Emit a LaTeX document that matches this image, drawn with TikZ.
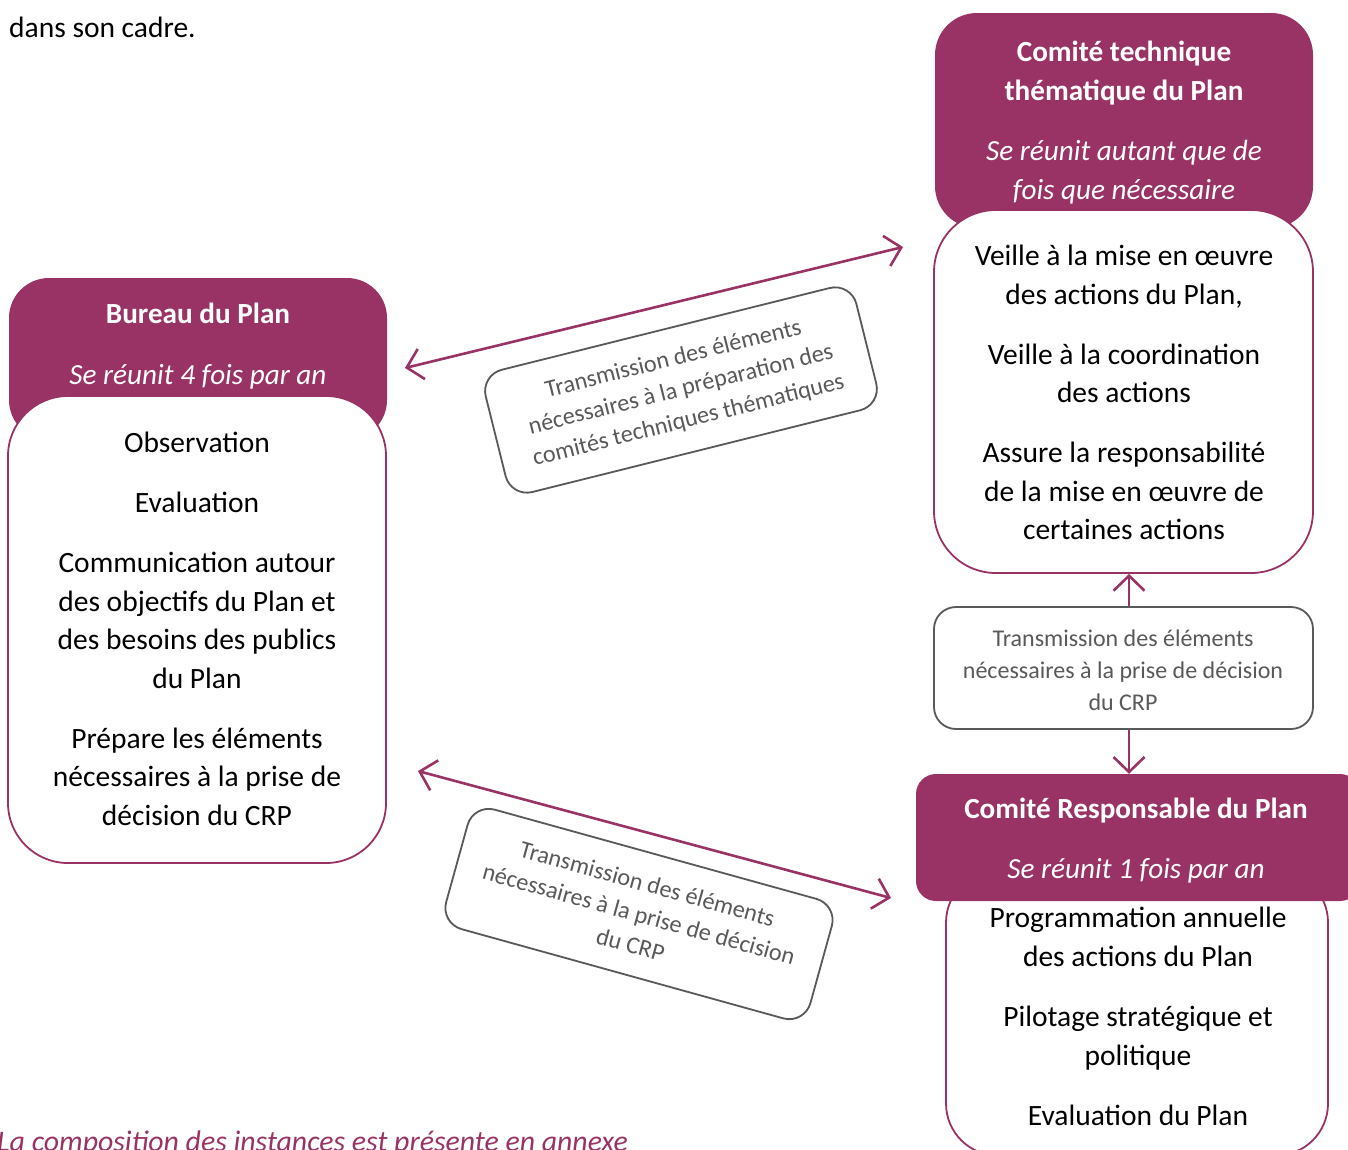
\documentclass[tikz,border=0pt]{standalone}
\usepackage{fontspec}
\setmainfont{Carlito}
\usetikzlibrary{arrows.meta}
\definecolor{plum}{RGB}{153,51,102}
\definecolor{greytxt}{RGB}{89,89,89}
\tikzset{
  head/.style={fill=plum, draw=none, inner sep=0pt},
  bodybox/.style={fill=white, draw=plum, line width=1.8pt, inner sep=0pt},
  greybox/.style={fill=white, draw=greytxt, line width=1.8pt, inner sep=0pt, rounded corners=22pt},
  htitle/.style={anchor=base, inner sep=0pt, text=white, font=\fontsize{29.2}{39}\selectfont\bfseries},
  hsub/.style={anchor=base, inner sep=0pt, text=white, font=\fontsize{29.2}{39}\selectfont\itshape},
  btext/.style={anchor=base, inner sep=0pt, text=black, font=\fontsize{29.5}{39}\selectfont},
  gtext/.style={anchor=base, inner sep=0pt, text=greytxt, font=\fontsize{24}{32}\selectfont},
  rotbox/.style={fill=white, draw=greytxt, line width=1.8pt, inner sep=0pt, rounded corners=22pt,
     align=center, text=greytxt, font=\fontsize{24.2}{31.5}\selectfont},
  barb/.tip={Straight Barb[length=15pt,width=31pt]},
  arr/.style={draw=plum, line width=2.6pt},
}
\begin{document}
\begin{tikzpicture}[x=1pt,y=-1pt]
\useasboundingbox (0,0) rectangle (1348,1149);
\clip (0,0) rectangle (1348,1149);
\fill[white] (0,0) rectangle (1348,1149);

% top text
\node[anchor=base west, inner sep=0pt, font=\fontsize{29.5}{39}\selectfont] (intro) at (9,37) {dans son cadre.};

% Comite technique thematique
\node[head, rounded corners=42pt, minimum width=378pt, minimum height=215pt] (cthead) at (1124,120.5) {};
\node[bodybox, rounded corners=62pt, minimum width=379pt, minimum height=363pt] (ctbody) at (1123.5,391.5) {};
\node[htitle] (ct1) at (1124,61) {Comité technique};
\node[htitle] (ct2) at (1124,100) {thématique du Plan};
\node[hsub] (ct3) at (1124,160) {Se réunit autant que de};
\node[hsub] (ct4) at (1124,199) {fois que nécessaire};
\foreach \t/\y [count=\i] in {Veille à la mise en œuvre/265, {des actions du Plan,}/304, Veille à la coordination/364, des actions/402, Assure la responsabilité/462, de la mise en œuvre de/501, certaines actions/539}
  \node[btext] (ctb\i) at (1124,\y) {\t};

% Bureau du Plan
\node[head, rounded corners=40pt, minimum width=378pt, minimum height=162pt] (bphead) at (198,359) {};
\node[bodybox, rounded corners=60pt, minimum width=378pt, minimum height=467pt] (bpbody) at (197,629.5) {};
\node[htitle] (bp1) at (198,323) {Bureau du Plan};
\node[hsub] (bp2) at (198,384) {Se réunit 4 fois par an};
\foreach \t/\y [count=\i] in {Observation/452, Evaluation/512, Communication autour/572, des objectifs du Plan et/611, des besoins des publics/649, du Plan/688, Prépare les éléments/748, nécessaires à la prise de/786, décision du CRP/825}
  \node[btext] (bpb\i) at (197,\y) {\t};

% Comite Responsable du Plan
\node[bodybox, rounded corners=52pt, minimum width=382pt, minimum height=285pt] (crpbody) at (1137,1013) {};
\node[head, rounded corners=20pt, minimum width=444pt, minimum height=127pt] (crphead) at (1138,837.5) {};
\node[htitle] (crp1) at (1136,818) {Comité Responsable du Plan};
\node[hsub] (crp2) at (1136,878) {Se réunit 1 fois par an};
\foreach \t/\y [count=\i] in {Programmation annuelle/927, des actions du Plan/966, Pilotage stratégique et/1026, politique/1065, Evaluation du Plan/1125}
  \node[btext] (crpb\i) at (1138,\y) {\t};

% grey middle box
\node[greybox, minimum width=379pt, minimum height=122pt] (gbox) at (1123.5,668) {};
\node[gtext] (g1) at (1123,646) {Transmission des éléments};
\node[gtext] (g2) at (1123,678) {nécessaires à la prise de décision};
\node[gtext] (g3) at (1123,710) {du CRP};

% rotated label boxes
\node[rotbox, rotate=14, minimum width=382pt, minimum height=126pt] (rb1) at (681,390)
  {Transmission des éléments\\nécessaires à la préparation des\\comités techniques thématiques};
\node[rotbox, rotate=-15.5, minimum width=378pt, minimum height=124pt] (rb2) at (639,914)
  {Transmission des éléments\\nécessaires à la prise de décision\\du CRP};

% arrows
\coordinate (a1l) at (405,368);
\coordinate (a1r) at (903,247);
\coordinate (a2l) at (418,771);
\coordinate (a2r) at (891,898);
\draw[arr, {barb}-{barb}] (a1l) -- (a1r);
\draw[arr, {barb}-{barb}] (a2l) -- (a2r);
\draw[arr, -{barb}] ([xshift=5.5pt]gbox.north) -- ([xshift=5.5pt]gbox.north |- ctbody.south);
\draw[arr, -{barb}] ([xshift=5.5pt]gbox.south) -- ([xshift=5.5pt]gbox.south |- crphead.north);

% bottom note
\node[anchor=base west, inner sep=0pt, text=plum, font=\fontsize{29.8}{39}\selectfont\itshape] (note) at (-3,1151) {La composition des instances est présente en annexe};
\end{tikzpicture}
\end{document}
